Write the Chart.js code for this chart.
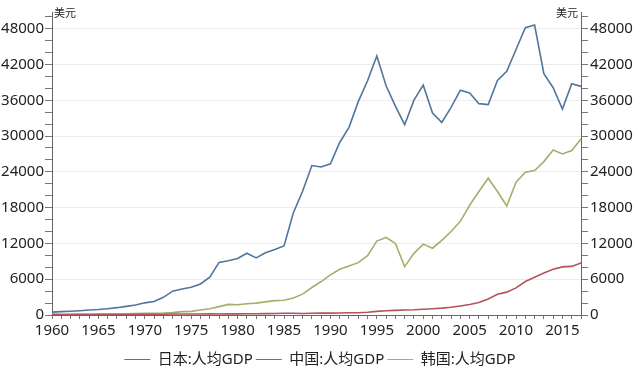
<!DOCTYPE html>
<html>
<head>
<meta charset="utf-8">
<script src="https://cdn.jsdelivr.net/npm/chart.js@4/dist/chart.umd.min.js"></script>
<style>
  html, body { margin: 0; padding: 0; background: #fff; }
  #wrap { width: 640px; height: 377px; }
</style>
</head>
<body>
<div id="wrap"><canvas id="myChart"></canvas></div>
<script>
// years 1960 - 2017
let years = [];
for (let y = 1960; y <= 2017; y++) years.push(String(y));

// 日本 人均GDP (美元)
let japan = [479, 564, 634, 718, 835, 919, 1059, 1229, 1451, 1669,
    2038, 2272, 2967, 3997, 4354, 4659, 5197, 6335, 8821, 9105,
    9463, 10361, 9578, 10425, 10985, 11585, 17112, 20745, 25051, 24813,
    25359, 28925, 31465, 35766, 39269, 43440, 38437, 35022, 31903, 36027,
    38532, 33846, 32289, 34808, 37689, 37218, 35434, 35275, 39339, 40855,
    44508, 48168, 48603, 40454, 38109, 34524, 38794, 38332];

// 中国 人均GDP
let china = [90, 76, 70, 74, 85, 98, 104, 97, 91, 100,
    113, 119, 132, 157, 160, 178, 165, 185, 156, 184,
    195, 197, 203, 225, 250, 294, 281, 252, 284, 311,
    318, 333, 366, 377, 473, 610, 709, 782, 829, 873,
    959, 1053, 1149, 1289, 1509, 1753, 2099, 2694, 3468, 3832,
    4550, 5618, 6317, 7051, 7679, 8067, 8148, 8700];

// 韩国 人均GDP
let korea = [158, 94, 106, 146, 124, 109, 133, 161, 198, 243,
    279, 301, 323, 406, 563, 615, 830, 1052, 1406, 1784,
    1715, 1883, 1993, 2199, 2413, 2482, 2835, 3500, 4610, 5610,
    6720, 7670, 8220, 8780, 9940, 12390, 13000, 12000, 8110, 10330,
    11890, 11200, 12500, 14000, 15700, 18400, 20700, 22930, 20700, 18280,
    22280, 23940, 24220, 25720, 27670, 27000, 27560, 29500];

let seriesNames = ['日本:人均GDP', '中国:人均GDP', '韩国:人均GDP'];
let seriesColors = ['#52759c', '#b5525a', '#a9ad6b'];

// y axis: labelled every 6000, small ticks every 2000
let yMax = 50800;
let yMinorStep = 2000;
let yMajorStep = 6000;

let font = "'Noto Sans', 'Noto Sans CJK SC', sans-serif";
Chart.defaults.font.family = font;
Chart.defaults.color = '#222';

// "美元" unit labels at top of both axes
const unitPlugin = {
    id: 'unitLabels',
    afterDraw(chart) {
        let ctx = chart.ctx;
        let yl = chart.scales.y;
        let yr = chart.scales.y2;
        ctx.save();
        ctx.font = "11px 'Noto Sans CJK SC', sans-serif";
        ctx.fillStyle = '#222';
        ctx.textBaseline = 'middle';
        ctx.textAlign = 'left';
        ctx.fillText('美元', yl.right + 2, yl.top + 1);
        ctx.textAlign = 'right';
        ctx.fillText('美元', yr.left - 3, yr.top + 1);
        ctx.restore();
    }
};

function yTicks(v) {
    return v % yMajorStep === 0 ? String(v) : '';
}

function setYTicks(scale) {
    let t = [];
    for (let v = 0; v <= yMax; v += yMinorStep) t.push({ value: v });
    scale.ticks = t;
}

var ctx = document.getElementById('myChart').getContext('2d');
var chart = new Chart(ctx, {
    type: 'line',
    data: {
        labels: years,
        datasets: [
            { label: seriesNames[0], data: japan, borderColor: seriesColors[0], backgroundColor: seriesColors[0], yAxisID: 'y' },
            { label: seriesNames[1], data: china, borderColor: seriesColors[1], backgroundColor: seriesColors[1], yAxisID: 'y' },
            { label: seriesNames[2], data: korea, borderColor: seriesColors[2], backgroundColor: seriesColors[2], yAxisID: 'y' }
        ]
    },
    options: {
        responsive: true,
        maintainAspectRatio: false,
        animation: false,
        elements: {
            line: { borderWidth: 1.6, tension: 0 },
            point: { radius: 0 }
        },
        layout: { padding: { top: 12, bottom: 0, left: 0, right: 0 } },
        plugins: {
            tooltip: { enabled: false },
            legend: {
                position: 'bottom',
                labels: {
                    usePointStyle: true,
                    pointStyle: 'line',
                    pointStyleWidth: 26,
                    padding: 3,
                    font: { size: 15 },
                    color: '#222'
                }
            }
        },
        scales: {
            x: {
                offset: false,
                grid: { offset: false, drawOnChartArea: false, color: '#777', tickColor: '#777', tickLength: 4 },
                border: { color: '#666', width: 1 },
                ticks: {
                    autoSkip: false,
                    maxRotation: 0,
                    padding: 3,
                    font: { size: 15 },
                    callback: function (v, i) { return (1960 + i) % 5 === 0 ? String(1960 + i) : ''; }
                },
                afterFit: s => { s.height = 34; }
            },
            y: {
                position: 'left',
                min: 0,
                max: yMax,
                afterBuildTicks: setYTicks,
                grid: {
                    color: c => (c.tick && c.tick.value % yMajorStep === 0 && c.tick.value > 0) ? '#ececec' : 'rgba(0,0,0,0)',
                    tickColor: '#777',
                    tickLength: 7
                },
                border: { color: '#666', width: 1 },
                ticks: { autoSkip: false, padding: 1, font: { size: 15 }, callback: yTicks },
                afterFit: s => { s.width = 52; }
            },
            y2: {
                position: 'right',
                min: 0,
                max: yMax,
                afterBuildTicks: setYTicks,
                grid: { drawOnChartArea: false, tickColor: '#777', tickLength: 7 },
                border: { color: '#666', width: 1 },
                ticks: { autoSkip: false, padding: 2, font: { size: 15 }, callback: yTicks },
                afterFit: s => { s.width = 59; }
            }
        }
    },
    plugins: [unitPlugin]
});
</script>
</body>
</html>
